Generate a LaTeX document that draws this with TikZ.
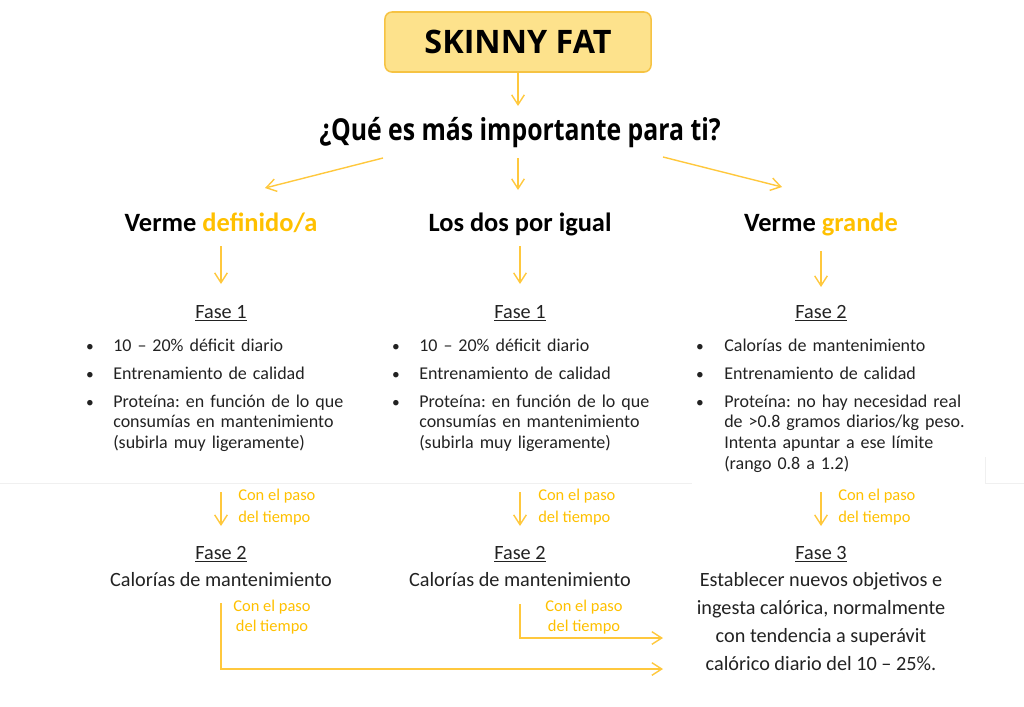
\documentclass[tikz,border=0pt]{standalone}
\usepackage{fontspec}
\setmainfont{Carlito}
\newfontfamily\titlefont{Open Sans}
\newfontfamily\askfont{Open Sans}[FakeStretch=0.82]
\usetikzlibrary{arrows.meta}
\definecolor{gold}{HTML}{FFC000}
\definecolor{arrowgold}{HTML}{FFC83D}
\definecolor{boxfill}{HTML}{FDE28C}
\definecolor{boxline}{HTML}{F6C343}
\definecolor{ink}{HTML}{222222}
\newcommand\listfont{\fontsize{12.8}{14.9}\selectfont\frenchspacing\hyphenpenalty=10000\relax\exhyphenpenalty=10000\relax\tolerance=10000\relax}
\tikzset{
	titlebox/.style={draw=boxline,fill=boxfill,line width=1.1pt,rounded corners=5pt,minimum width=6.65cm,minimum height=1.5cm,font=\titlefont\bfseries\fontsize{23}{27}\selectfont},
	askline/.style={anchor=base,inner sep=0pt,font=\askfont\bfseries\fontsize{21.5}{26}\selectfont},
	choice/.style={anchor=base,inner sep=0pt,font=\bfseries\fontsize{18.8}{22}\selectfont},
	phase/.style={anchor=base,inner sep=0pt,text=ink,font=\fontsize{14.4}{19.9}\selectfont},
	item/.style={anchor=base west,inner sep=0pt,text=ink,text width=#1,font=\listfont},
	dot/.style={anchor=base,inner sep=0pt,text=ink,font=\fontsize{11}{13}\selectfont},
	timelabel/.style={anchor=base west,inner sep=0pt,text=gold,align=left,font=\fontsize{11.7}{15.6}\selectfont},
	timelabelc/.style={anchor=base,inner sep=0pt,text=gold,align=center,font=\fontsize{11.7}{14.2}\selectfont}
}
\begin{document}
\begin{tikzpicture}[x=0.025cm,y=-0.025cm]
	\useasboundingbox (0,0) rectangle (1024,706);
	\draw[black!6] (0,483) -- (692,483) (985,457) -- (985,483) -- (1024,483);
	\begin{scope}
	  \node[titlebox] (title) at (518,42) {SKINNY FAT};
	  \node[askline] (ask) at (520,140) {¿Qué es más importante para ti?};
	  \node[choice] (defined) at (221,231) {Verme \textcolor{gold}{definido/a}};
	  \node[choice] (both) at (520,231) {Los dos por igual};
	  \node[choice] (big) at (821,231) {Verme \textcolor{gold}{grande}};
	\end{scope}
	\begin{scope}
	  \node[phase] (fa) at (221,318) {\underline{Fase 1}};
	  \node[phase] (fb) at (520,318) {\underline{Fase 1}};
	  \node[phase] (fc) at (821,318) {\underline{Fase 2}};
	  \node[dot] (da1) at (90,351) {•};
	  \node[dot] (da2) at (90,379) {•};
	  \node[dot] (da3) at (90,407) {•};
	  \node[item=168.5pt] (ia1) at (113,351) {10 – 20\% déficit diario};
	  \node[item=168.5pt] (ia2) at (113,379) {Entrenamiento de calidad};
	  \node[item=168.5pt] (ia3) at (113,407) {Proteína: en función de lo que\linebreak consumías en mantenimiento\linebreak (subirla muy ligeramente)};
	  \node[dot] (db1) at (396,351) {•};
	  \node[dot] (db2) at (396,379) {•};
	  \node[dot] (db3) at (396,407) {•};
	  \node[item=168.5pt] (ib1) at (419,351) {10 – 20\% déficit diario};
	  \node[item=168.5pt] (ib2) at (419,379) {Entrenamiento de calidad};
	  \node[item=168.5pt] (ib3) at (419,407) {Proteína: en función de lo que\linebreak consumías en mantenimiento\linebreak (subirla muy ligeramente)};
	  \node[dot] (dc1) at (700,351) {•};
	  \node[dot] (dc2) at (700,379) {•};
	  \node[dot] (dc3) at (700,407) {•};
	  \node[item=180pt] (ic1) at (724,351) {Calorías de mantenimiento};
	  \node[item=180pt] (ic2) at (724,379) {Entrenamiento de calidad};
	  \node[item=180pt] (ic3) at (724,407) {Proteína: no hay necesidad real\linebreak de >0.8 gramos diarios/kg peso.\linebreak Intenta apuntar a ese límite\linebreak (rango 0.8 a 1.2)};
	\end{scope}
	\begin{scope}
	  \node[timelabel] (ta) at (238,522) {Con el paso\\del tiempo};
	  \node[timelabel] (tb) at (538,522) {Con el paso\\del tiempo};
	  \node[timelabel] (tc) at (838,522) {Con el paso\\del tiempo};
	  \node[phase] (ga) at (221,559) {\underline{Fase 2}};
	  \node[phase] (gb) at (520,559) {\underline{Fase 2}};
	  \node[phase] (gc) at (821,559) {\underline{Fase 3}};
	  \node[phase] (ka) at (221,586) {Calorías de mantenimiento};
	  \node[phase] (kb) at (520,586) {Calorías de mantenimiento};
	  \node[phase,align=center] (kc) at (821,670) {Establecer nuevos objetivos e\\ingesta calórica, normalmente\\con tendencia a superávit\\calórico diario del 10 – 25\%.};
	  \node[timelabelc] (ua) at (272,631) {Con el paso\\del tiempo};
	  \node[timelabelc] (ub) at (584,631) {Con el paso\\del tiempo};
	\end{scope}
	\begin{scope}
	  \coordinate (t0) at (518,73);   \coordinate (a0) at (518,106);
	  \coordinate (a1) at (383,158);  \coordinate (c1) at (265,188);
	  \coordinate (a2) at (518,158);  \coordinate (c2) at (518,190);
	  \coordinate (a3) at (663,157);  \coordinate (c3) at (782,187);
	  \coordinate (d1) at (221,246);  \coordinate (e1) at (221,284);
	  \coordinate (d2) at (520,246);  \coordinate (e2) at (520,284);
	  \coordinate (d3) at (821,251);  \coordinate (e3) at (821,287);
	  \coordinate (p1) at (221,492);  \coordinate (q1) at (221,526);
	  \coordinate (p2) at (520,492);  \coordinate (q2) at (520,526);
	  \coordinate (p3) at (821,492);  \coordinate (q3) at (821,526);
	  \coordinate (r1) at (221,603);  \coordinate (s1) at (663,669);
	  \coordinate (r2) at (520,604);  \coordinate (s2) at (663,638);
	\end{scope}
	\begin{scope}[every edge/.style={draw=arrowgold,line width=1pt,-{Straight Barb[length=7pt,width=9pt]}}]
	  \path (t0) edge (a0);
	  \path (a1) edge (c1);
	  \path (a2) edge (c2);
	  \path (a3) edge (c3);
	  \path (d1) edge (e1);
	  \path (d2) edge (e2);
	  \path (d3) edge (e3);
	  \path (p1) edge (q1);
	  \path (p2) edge (q2);
	  \path (p3) edge (q3);
	  \draw[arrowgold,line width=1pt,-{Straight Barb[length=7pt,width=9pt]}] (r1) |- (s1);
	  \draw[arrowgold,line width=1pt,-{Straight Barb[length=7pt,width=9pt]}] (r2) |- (s2);
	\end{scope}
\end{tikzpicture}
\end{document}
